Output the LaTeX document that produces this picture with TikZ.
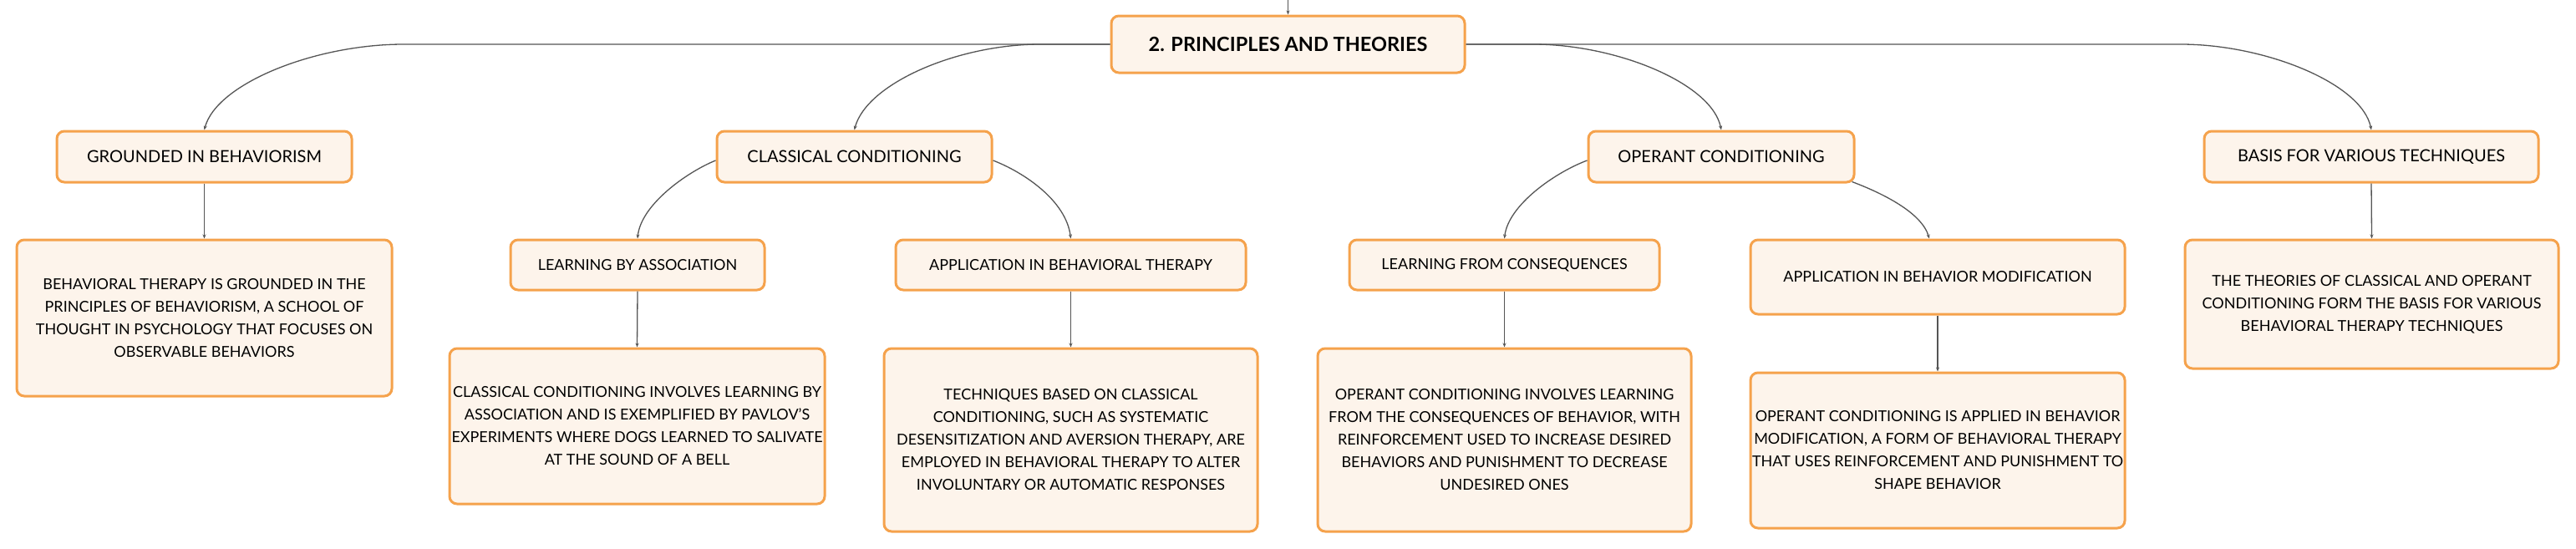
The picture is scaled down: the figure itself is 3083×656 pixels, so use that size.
\documentclass[tikz,border=0pt]{standalone}
\usepackage{fontspec}
\setmainfont{Lato}
\usetikzlibrary{arrows.meta}
\definecolor{boxborder}{HTML}{F5A24C}
\definecolor{boxfill}{HTML}{FDF4EB}
\definecolor{edgecol}{HTML}{555555}
\begin{document}
\begin{tikzpicture}[x=1pt,y=-1pt,
  box/.style={draw=boxborder, line width=3pt, fill=boxfill, rounded corners=9pt, inner sep=0pt, align=center, text=black},
  sz/.style 2 args={minimum width=#1pt, minimum height=#2pt},
  rootbox/.style={box, font=\fontsize{23.5}{28}\selectfont\bfseries},
  lvlone/.style={box, font=\fontsize{20}{24}\selectfont},
  lvltwo/.style={box, font=\fontsize{18}{27}\selectfont},
  body/.style={box, font=\fontsize{18}{27}\selectfont},
  conn/.style={draw=edgecol, line width=1.3pt, -{Stealth[length=5pt,width=4pt]}}
]
\fill[white] (0,0) rectangle (3083,656);
\useasboundingbox (0,0) rectangle (3083,656);

% root
\node[rootbox, sz={423}{68}] (root) at (1541.5,53) {2. PRINCIPLES AND THEORIES};
\coordinate (top) at (1541.5,0);

% level one
\node[lvlone, sz={353}{61}] (grounded) at (244.5,187.5) {GROUNDED IN BEHAVIORISM};
\node[lvlone, sz={329}{61}] (classical) at (1022.5,187.5) {CLASSICAL CONDITIONING};
\node[lvlone, sz={318}{61}] (operant) at (2060,187.5) {OPERANT CONDITIONING};
\node[lvlone, sz={400}{61}] (basis) at (2838,187.5) {BASIS FOR VARIOUS TECHNIQUES};

% level two
\node[body, sz={449}{187}] (behtext) at (244.5,380.5) {BEHAVIORAL THERAPY IS GROUNDED IN THE\\PRINCIPLES OF BEHAVIORISM, A SCHOOL OF\\THOUGHT IN PSYCHOLOGY THAT FOCUSES ON\\OBSERVABLE BEHAVIORS};
\node[lvltwo, sz={304}{60}] (assoc) at (763,317) {LEARNING BY ASSOCIATION};
\node[lvltwo, sz={419}{60}] (appbt) at (1281.5,317) {APPLICATION IN BEHAVIORAL THERAPY};
\node[lvltwo, sz={371}{60}] (learncons) at (1800.5,317) {LEARNING FROM CONSEQUENCES};
\node[lvltwo, sz={448}{89}] (appbm) at (2319,331.5) {APPLICATION IN BEHAVIOR MODIFICATION};
\node[body, sz={447}{154}] (theotext) at (2838.5,364) {THE THEORIES OF CLASSICAL AND OPERANT\\CONDITIONING FORM THE BASIS FOR VARIOUS\\BEHAVIORAL THERAPY TECHNIQUES};

% level three
\node[body, sz={449}{186}] (classtext) at (762.5,510) {CLASSICAL CONDITIONING INVOLVES LEARNING BY\\ASSOCIATION AND IS EXEMPLIFIED BY PAVLOV'S\\EXPERIMENTS WHERE DOGS LEARNED TO SALIVATE\\AT THE SOUND OF A BELL};
\node[body, sz={447}{219}] (techtext) at (1281.5,526.5) {TECHNIQUES BASED ON CLASSICAL\\CONDITIONING, SUCH AS SYSTEMATIC\\DESENSITIZATION AND AVERSION THERAPY, ARE\\EMPLOYED IN BEHAVIORAL THERAPY TO ALTER\\INVOLUNTARY OR AUTOMATIC RESPONSES};
\node[body, sz={447}{219}] (opertext) at (1800.5,526.5) {OPERANT CONDITIONING INVOLVES LEARNING\\FROM THE CONSEQUENCES OF BEHAVIOR, WITH\\REINFORCEMENT USED TO INCREASE DESIRED\\BEHAVIORS AND PUNISHMENT TO DECREASE\\UNDESIRED ONES};
\node[body, sz={448}{186}] (operapplied) at (2319,539) {OPERANT CONDITIONING IS APPLIED IN BEHAVIOR\\MODIFICATION, A FORM OF BEHAVIORAL THERAPY\\THAT USES REINFORCEMENT AND PUNISHMENT TO\\SHAPE BEHAVIOR};

% connectors from root
\draw[conn] (top) -- (root.north);
\draw[conn] (root.west) -- (483,53) .. controls (377,53) and (259,100) .. (grounded.north);
\draw[conn] (root.west) -- (1245,53) .. controls (1146,53) and (1037,100) .. (classical.north);
\draw[conn] (root.east) -- (1835,53) .. controls (1935,53) and (2049,100) .. (operant.north);
\draw[conn] (root.east) -- (2610,53) .. controls (2711,53) and (2827,100) .. (basis.north);

% connectors from level one
\draw[conn] (grounded.south) -- (behtext.north);
\draw[conn] (basis.south) -- (theotext.north);
\draw[conn] ([yshift=-4.5pt]classical.west) .. controls (822,206) and (767,245) .. (assoc.north);
\draw[conn] ([yshift=-4.5pt]classical.east) .. controls (1225,206) and (1276,240) .. (appbt.north);
\draw[conn] ([yshift=-4.5pt]operant.west) .. controls (1862,206) and (1805,245) .. (learncons.north);
\draw[conn] ([xshift=-4pt,yshift=2pt]operant.south east) .. controls (2255,232) and (2300,255) .. ([xshift=-10pt]appbm.north);

% connectors from level two
\draw[conn] (assoc.south) -- (classtext.north);
\draw[conn] (appbt.south) -- (techtext.north);
\draw[conn] (learncons.south) -- (opertext.north);
\draw[conn] (appbm.south) -- (operapplied.north);
\end{tikzpicture}
\end{document}
